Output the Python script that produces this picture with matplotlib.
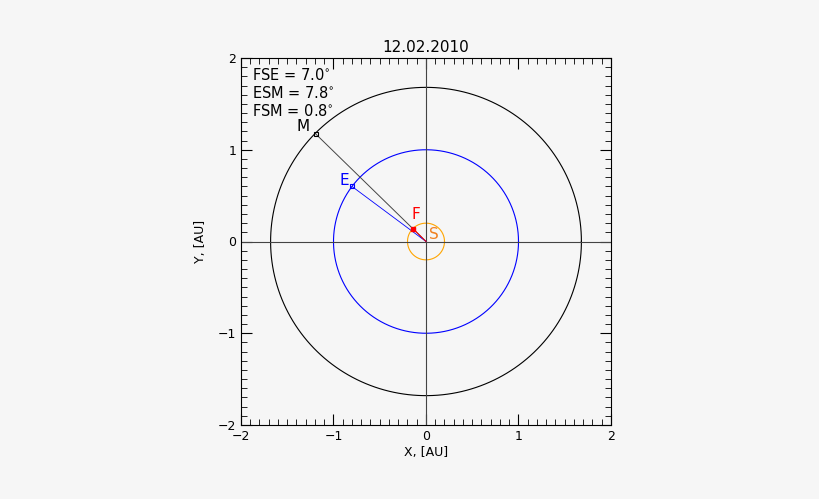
import numpy as np
import matplotlib.pyplot as plt
from matplotlib.ticker import MultipleLocator

# Positions in AU
mars_xy = (-1.19, 1.17)
earth_xy = (-0.80, 0.60)
flare_xy = (-0.14, 0.14)
mars_r = 1.68
earth_r = 1.00
sun_r = 0.20
angle_labels = ['FSE = 7.0$^{\\circ}$', 'ESM = 7.8$^{\\circ}$', 'FSM = 0.8$^{\\circ}$']

bg = '#f6f6f6'
fig = plt.figure(figsize=(8.2, 4.99), dpi=100, facecolor=bg)
ax = fig.add_axes([241/820, 1-425/499, 370/820, 367/499], facecolor=bg)

t = np.linspace(0, 2*np.pi, 400)
ax.plot(mars_r*np.cos(t), mars_r*np.sin(t), color='black', lw=0.8)
ax.plot(earth_r*np.cos(t), earth_r*np.sin(t), color='blue', lw=0.8)
ax.plot(sun_r*np.cos(t), sun_r*np.sin(t), color='orange', lw=0.8)
ax.axhline(0, color='#444444', lw=0.8)
ax.axvline(0, color='#444444', lw=0.8)

ax.plot([0, mars_xy[0]], [0, mars_xy[1]], color='#444444', lw=0.7)
ax.plot([0, earth_xy[0]], [0, earth_xy[1]], color='blue', lw=0.6)
ax.plot([0, flare_xy[0]], [0, flare_xy[1]], color='red', lw=0.7)
ax.plot(*mars_xy, 's', ms=3, mfc='none', mec='black', mew=0.8)
ax.plot(*earth_xy, 's', ms=3, mfc='none', mec='blue', mew=0.8)
ax.plot(*flare_xy, 's', ms=3, color='red')

ax.text(-1.33, 1.25, 'M', fontsize=11, ha='center', va='center')
ax.text(-0.88, 0.67, 'E', fontsize=11, color='blue', ha='center', va='center')
ax.text(-0.11, 0.29, 'F', fontsize=11, color='red', ha='center', va='center')
ax.text(0.08, 0.08, 'S', fontsize=11, color='#f08020', ha='center', va='center')

for i, s in enumerate(angle_labels):
    ax.text(0.03, 0.975 - i*0.049, s, transform=ax.transAxes, fontsize=10.5, va='top')

ax.set_xlim(-2, 2)
ax.set_ylim(-2, 2)
ax.xaxis.set_minor_locator(MultipleLocator(0.1))
ax.yaxis.set_minor_locator(MultipleLocator(0.1))
ax.tick_params(which='both', direction='in', top=True, right=True, labelsize=9)
ax.tick_params(which='major', length=8)
ax.tick_params(which='minor', length=4)
ax.set_xticks([-2, -1, 0, 1, 2], ['\u22122', '\u22121', '0', '1', '2'])
ax.set_yticks([-2, -1, 0, 1, 2], ['\u22122', '\u22121', '0', '1', '2'])
ax.set_xlabel('X, [AU]', fontsize=9, labelpad=2)
ax.set_ylabel('Y, [AU]', fontsize=9, labelpad=8)
ax.set_title('12.02.2010', fontsize=11, pad=4)

fig.savefig('out.png', dpi=100, facecolor=bg)
